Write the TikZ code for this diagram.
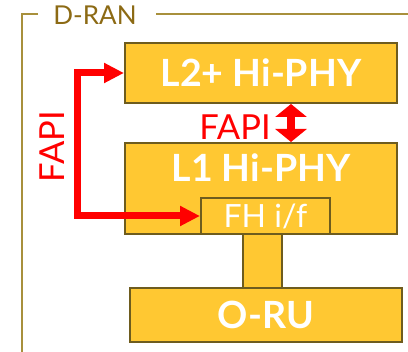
\documentclass[tikz,border=0pt]{standalone}
\usepackage{fontspec}
\setmainfont{Lato}
\usepackage{tikz}
\usetikzlibrary{arrows.meta, positioning}
\definecolor{gold}{HTML}{FFC832}
\definecolor{olive}{HTML}{6E5C1E}
\definecolor{frameline}{HTML}{A8903C}
\definecolor{frametext}{HTML}{8C6A14}

\begin{document}
\begin{tikzpicture}[x=1pt, y=-1pt,
    bar/.style={draw=olive, line width=2pt, fill=gold},
    block/.style={bar, rectangle, text=white, inner sep=0pt},
    title/.style={text=white, font=\fontsize{37.5}{37.5}\selectfont\bfseries},
    fapi/.style={text=red, font=\fontsize{34.5}{34.5}\selectfont},
    frame/.style={draw=frameline, line width=1.3pt},
    elbow/.style={draw=red, line width=7pt, {Triangle[length=20pt, width=19pt]}-{Triangle[length=20pt, width=19pt]}},
    updown/.style={draw=red, line width=8pt, {Triangle[length=13pt, width=31pt]}-{Triangle[length=13pt, width=31pt]}}
  ]
  \useasboundingbox (0,0) rectangle (408,352);

  % Frame
  \node[text=frametext, font=\fontsize{26}{26}\selectfont] (dran) at (95,15.5) {D-RAN};
  \draw[frame] (38,14) -- (22,14) -- (22,352);
  \draw[frame] (156,14) -- (408,14);

  % Blocks
  \node[block, minimum width=272pt, minimum height=60pt, title] (l2) at (261,73) {L2+ Hi-PHY};
  \node[block, minimum width=272pt, minimum height=91pt] (l1) at (261,188.5) {};
  \node[title, below=8pt of l1.north] (l1text) {L1 Hi-PHY};
  \node[block, minimum width=272pt, minimum height=54pt, title] (oru) at (266,315) {O-RU};
  \draw[bar] (243,234) rectangle (282,288);
  \node[block, minimum width=129pt, minimum height=36pt, font=\fontsize{32}{32}\selectfont] (fh) at (265.5,216) {FH i/f};

  % Flows
  \draw[elbow] (l2.west) -- ++(-47,0) |- (fh.west);
  \node[fapi, rotate=90] (fapiside) at (52.5,146.5) {FAPI};
  \draw[updown] ([xshift=30pt]l2.south) -- node[fapi, left=13pt, yshift=-4pt] (fapimid) {FAPI} ([xshift=30pt]l1.north);

\end{tikzpicture}
\end{document}
